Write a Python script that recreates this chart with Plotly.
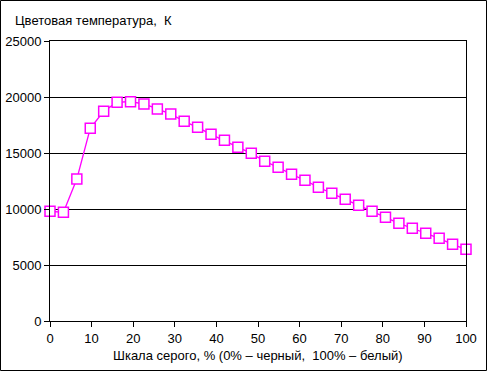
import plotly.graph_objects as go

gray_pct = [i * 100 / 31 for i in range(32)]
color_temp = [9800, 9700, 12680, 17200, 18720, 19530, 19580, 19375, 18930, 18480,
              17830, 17290, 16670, 16130, 15520, 14970, 14260, 13720, 13100, 12560,
              11940, 11400, 10860, 10330, 9790, 9260, 8720, 8280, 7830, 7380, 6850, 6400]

x_ticks = list(range(0, 101, 10))
y_ticks = list(range(0, 25001, 5000))

title_text = "Цветовая температура,  К"
x_title = "Шкала серого, % (0% – черный,  100% – белый)"

W, H = 487, 371
L, R, T, B = 50, 21, 41, 50
pw, ph = W - L - R, H - T - B

fig = go.Figure()
fig.add_trace(go.Scatter(
    x=gray_pct, y=color_temp, mode="lines+markers",
    line=dict(color="#FF00FF", width=1.3),
    marker=dict(symbol="square", size=10, color="white",
                line=dict(color="#FF00FF", width=1.5)),
    cliponaxis=False, showlegend=False))

font = dict(family="Liberation Sans, Arial", size=13, color="black")
fig.update_layout(
    width=W, height=H, margin=dict(l=L, r=R, t=T, b=B, autoexpand=False),
    paper_bgcolor="white", plot_bgcolor="white", font=font,
    xaxis=dict(range=[0, 100], tickvals=x_ticks, showgrid=False, zeroline=False,
               showline=True, linecolor="black", linewidth=1, mirror=True,
               ticks="outside", ticklen=5, tickcolor="black", tickfont=font,
               automargin=False),
    yaxis=dict(range=[0, 25000], tickvals=y_ticks, tickformat="d", showgrid=True,
               gridcolor="black", gridwidth=1, zeroline=False, showline=True,
               linecolor="black", linewidth=1, mirror=True, ticks="outside",
               ticklen=5, tickcolor="black", tickfont=font, automargin=False),
    annotations=[
        dict(text=title_text, xref="paper", yref="paper", x=(13 - L) / pw,
             y=1 + (T - 20) / ph, xanchor="left", yanchor="middle",
             showarrow=False, font=font),
        dict(text=x_title, xref="paper", yref="paper", x=0.5,
             y=-(355 - (H - B)) / ph, xanchor="center", yanchor="middle",
             showarrow=False, font=font),
    ],
    shapes=[dict(type="rect", xref="paper", yref="paper",
                 x0=-(L - 0.5) / pw, x1=1 + (R - 0.5) / pw,
                 y0=-(B - 0.5) / ph, y1=1 + (T - 0.5) / ph,
                 line=dict(color="black", width=1))],
)
fig.write_html("out.html", config={"displayModeBar": False},
               post_script="document.body.style.margin='0';")
